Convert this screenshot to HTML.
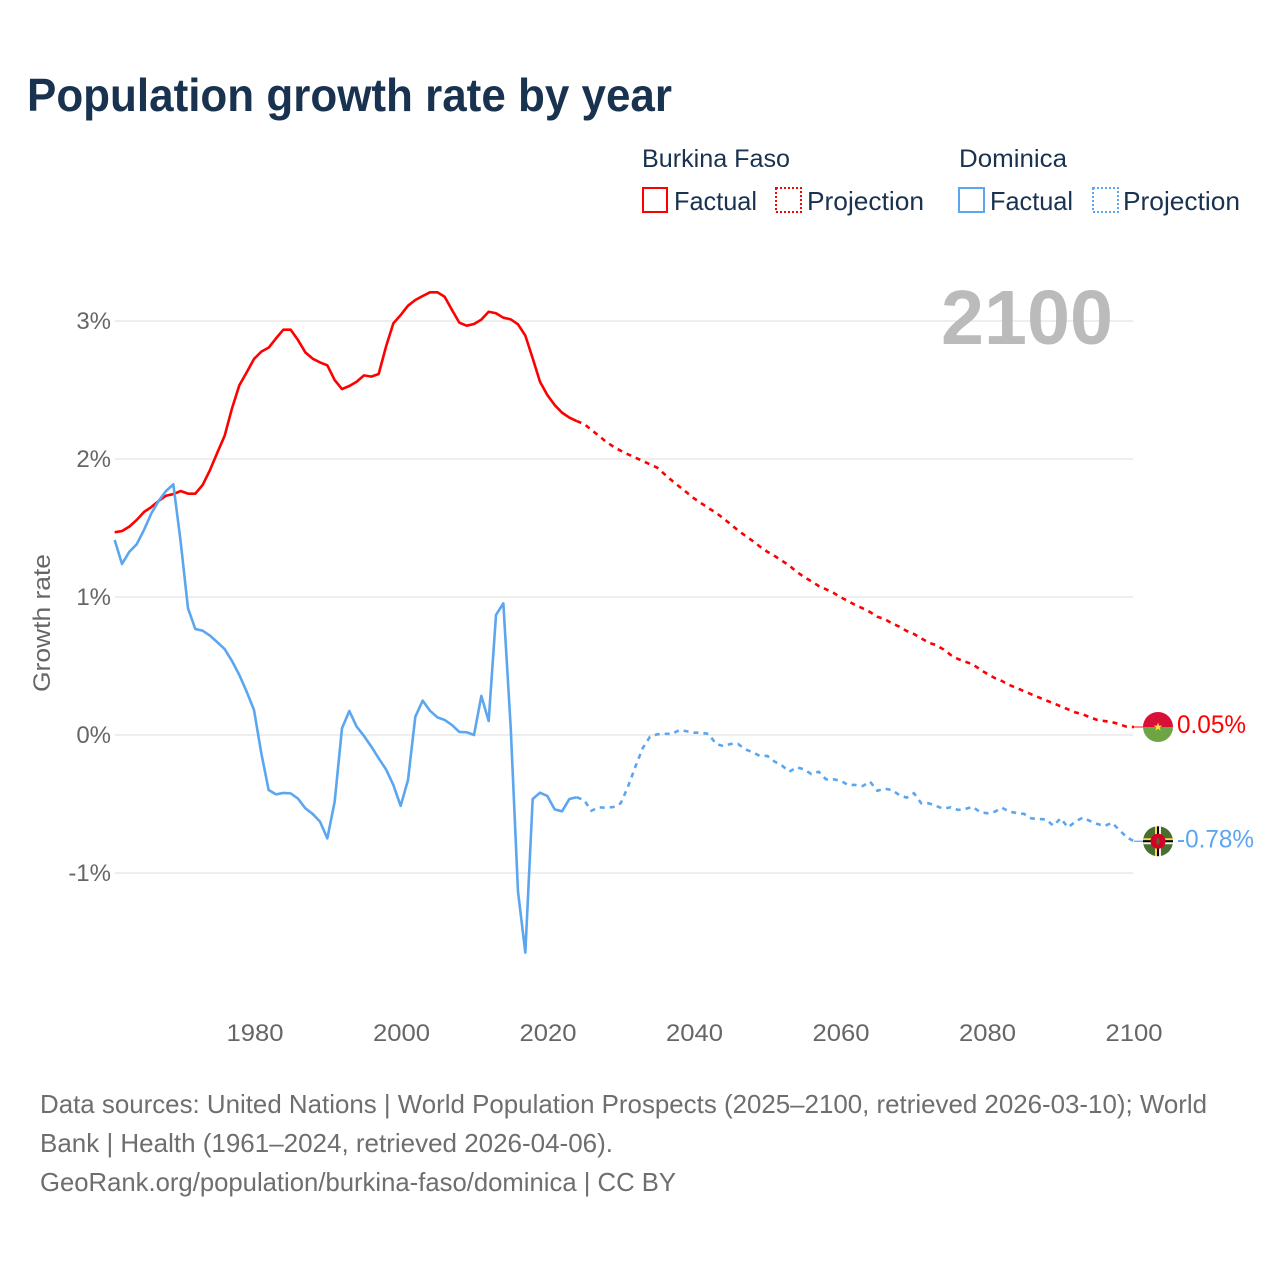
<!DOCTYPE html>
<html lang="en">
<head>
<meta charset="utf-8">
<title>Population growth rate by year</title>
<style>
  html, body { margin: 0; padding: 0; background: #fff; }
  svg { display: block; font-family: "Liberation Sans", sans-serif; }
</style>
</head>
<body>
<svg id="chart" xmlns="http://www.w3.org/2000/svg" width="1280" height="1280" viewBox="0 0 1280 1280">
  <rect x="0" y="0" width="1280" height="1280" fill="#ffffff"/>
  <text x="27" y="111" font-size="46" font-weight="700" fill="#18324f" textLength="645" lengthAdjust="spacingAndGlyphs">Population growth rate by year</text>

  <g>
    <text x="642" y="167" font-size="25" fill="#18324f" textLength="148" lengthAdjust="spacingAndGlyphs">Burkina Faso</text>
    <text x="959" y="167" font-size="25" fill="#18324f" textLength="108" lengthAdjust="spacingAndGlyphs">Dominica</text>
    <rect x="643" y="188" width="24" height="24" fill="none" stroke="#ff0000" stroke-width="2" shape-rendering="crispEdges"/>
    <text x="674" y="210" font-size="26" fill="#18324f" textLength="83" lengthAdjust="spacingAndGlyphs">Factual</text>
    <rect x="776" y="188" width="25" height="24" fill="none" stroke="#ff0000" stroke-width="2" stroke-dasharray="2 2" shape-rendering="crispEdges"/>
    <text x="807" y="210" font-size="26" fill="#18324f" textLength="117" lengthAdjust="spacingAndGlyphs">Projection</text>
    <rect x="959" y="188" width="25" height="24" fill="none" stroke="#5ca6ef" stroke-width="2" shape-rendering="crispEdges"/>
    <text x="990" y="210" font-size="26" fill="#18324f" textLength="83" lengthAdjust="spacingAndGlyphs">Factual</text>
    <rect x="1093" y="188" width="25" height="24" fill="none" stroke="#5ca6ef" stroke-width="2" stroke-dasharray="2 2" shape-rendering="crispEdges"/>
    <text x="1123" y="210" font-size="26" fill="#18324f" textLength="117" lengthAdjust="spacingAndGlyphs">Projection</text>
  </g>

  <g id="grid"></g>
  <g id="yticks"></g>
  <g id="xticks"></g>
  <text transform="translate(50 692) rotate(-90)" font-size="24" fill="#666666" textLength="138" lengthAdjust="spacingAndGlyphs">Growth rate</text>
  <text x="941" y="344" font-size="77" font-weight="700" fill="#bbbbbb" textLength="172" lengthAdjust="spacingAndGlyphs">2100</text>
  <g id="series"></g>

  <defs>
    <clipPath id="flag-clip"><circle cx="0" cy="0" r="15"/></clipPath>
  </defs>
  <g id="flag-bf" clip-path="url(#flag-clip)">
    <rect x="-15" y="-15" width="30" height="15" fill="#d80f36"/>
    <rect x="-15" y="0" width="30" height="15" fill="#6da544"/>
    <polygon points="0,-4.5 1.1,-1.4 4.3,-1.4 1.7,0.5 2.7,3.6 0,1.7 -2.7,3.6 -1.7,0.5 -4.3,-1.4 -1.1,-1.4" fill="#ffda44"/>
  </g>
  <g id="flag-dm" clip-path="url(#flag-clip)">
    <rect x="-15" y="-15" width="30" height="30" fill="#496e2d"/>
    <rect x="-3" y="-15" width="2" height="30" fill="#ffda44"/>
    <rect x="-1" y="-15" width="2" height="30" fill="#000000"/>
    <rect x="1" y="-15" width="2" height="30" fill="#f0f0f0"/>
    <rect x="-15" y="-3" width="30" height="2" fill="#ffda44"/>
    <rect x="-15" y="-1" width="30" height="2" fill="#000000"/>
    <rect x="-15" y="1" width="30" height="2" fill="#f0f0f0"/>
    <circle cx="0" cy="0" r="7.5" fill="#d80027"/>
    <ellipse cx="0" cy="0" rx="1.6" ry="3.6" fill="#496e2d"/>
  </g>

  <text x="40" y="1113" font-size="26" fill="#6e6e6e" textLength="1167" lengthAdjust="spacingAndGlyphs">Data sources: United Nations | World Population Prospects (2025–2100, retrieved 2026-03-10); World</text>
  <text x="40" y="1152" font-size="26" fill="#6e6e6e" textLength="573" lengthAdjust="spacingAndGlyphs">Bank | Health (1961–2024, retrieved 2026-04-06).</text>
  <text x="40" y="1191" font-size="26" fill="#6e6e6e" textLength="636" lengthAdjust="spacingAndGlyphs">GeoRank.org/population/burkina-faso/dominica | CC BY</text>
</svg>

<script>
const factualStartYear = 1961;
const projectionStartYear = 2024;
const xTickYears = [1980, 2000, 2020, 2040, 2060, 2080, 2100];
const yTickValues = [-1, 0, 1, 2, 3];
const yTickLabels = ["-1%", "0%", "1%", "2%", "3%"];
const endLabelBurkina = "0.05%";
const endLabelDominica = "-0.78%";

const burkinaFactual = [
  1.469, 1.478, 1.51, 1.558, 1.616, 1.652, 1.696, 1.734, 1.746, 1.768,
  1.749, 1.749, 1.812, 1.92, 2.046, 2.169, 2.367, 2.534, 2.628, 2.725,
  2.778, 2.807, 2.874, 2.937, 2.937, 2.862, 2.773, 2.727, 2.70, 2.679,
  2.572, 2.507, 2.529, 2.56, 2.606, 2.597, 2.616, 2.814, 2.983, 3.043,
  3.111, 3.152, 3.181, 3.208, 3.208, 3.176, 3.08, 2.988, 2.966, 2.978,
  3.01, 3.067, 3.056, 3.024, 3.012, 2.976, 2.894, 2.73, 2.56, 2.464,
  2.391, 2.336, 2.30, 2.275
];
const burkinaProjection = [
  2.275, 2.254, 2.212, 2.169, 2.125, 2.09, 2.06, 2.034, 2.01, 1.986, 1.961,
  1.937, 1.889, 1.843, 1.80, 1.758, 1.715, 1.679, 1.643, 1.611, 1.57,
  1.527, 1.483, 1.444, 1.406, 1.365, 1.328, 1.297, 1.263, 1.227, 1.183,
  1.145, 1.114, 1.08, 1.056, 1.031, 0.998, 0.971, 0.942, 0.918, 0.891,
  0.857, 0.84, 0.809, 0.785, 0.754, 0.732, 0.70, 0.669, 0.652, 0.621,
  0.58, 0.551, 0.531, 0.512, 0.476, 0.442, 0.413, 0.391, 0.362, 0.341,
  0.317, 0.295, 0.273, 0.251, 0.23, 0.208, 0.186, 0.164, 0.15, 0.128,
  0.109, 0.101, 0.094, 0.078, 0.06, 0.058
];
const dominicaFactual = [
  1.413, 1.239, 1.328, 1.382, 1.486, 1.606, 1.696, 1.768, 1.816, 1.40,
  0.918, 0.768, 0.756, 0.72, 0.672, 0.623, 0.536, 0.435, 0.314, 0.181,
  -0.133, -0.399, -0.43, -0.42, -0.423, -0.461, -0.531, -0.572, -0.628, -0.749,
  -0.483, 0.049, 0.174, 0.06, -0.007, -0.084, -0.169, -0.249, -0.362, -0.514,
  -0.326, 0.133, 0.249, 0.176, 0.128, 0.109, 0.072, 0.022, 0.02, 0.0,
  0.283, 0.101, 0.87, 0.954, 0.06, -1.135, -1.577, -0.464, -0.418, -0.442,
  -0.539, -0.553, -0.464, -0.451
];
const dominicaProjection = [
  -0.451, -0.471, -0.549, -0.524, -0.527, -0.522, -0.495, -0.375, -0.23, -0.096, -0.012,
  0.005, 0.009, 0.007, 0.036, 0.027, 0.017, 0.017, 0.007, -0.065, -0.08,
  -0.065, -0.065, -0.104, -0.125, -0.152, -0.152, -0.193, -0.222, -0.266, -0.234,
  -0.249, -0.283, -0.266, -0.321, -0.321, -0.331, -0.362, -0.362, -0.37, -0.338,
  -0.404, -0.389, -0.399, -0.435, -0.454, -0.422, -0.495, -0.495, -0.514, -0.534,
  -0.524, -0.543, -0.536, -0.52, -0.558, -0.567, -0.556, -0.527, -0.556, -0.565,
  -0.572, -0.604, -0.609, -0.611, -0.657, -0.604, -0.669, -0.628, -0.599, -0.623,
  -0.645, -0.659, -0.636, -0.688, -0.741, -0.77
];

const NS = "http://www.w3.org/2000/svg";
const RED = "#ff0000";
const BLUE = "#5ca6ef";
function xScale(year) { return 254 + (year - 1980) * (1134 - 254) / 120; }
function tickX(year) { return 255 + (year - 1980) * (1134 - 255) / 120; }
function yScale(value) { return 735 - value * 138; }
function make(tag, attrs, parent) {
  const el = document.createElementNS(NS, tag);
  Object.keys(attrs).forEach(function (k) { el.setAttribute(k, attrs[k]); });
  parent.appendChild(el);
  return el;
}
function linePath(values, startYear) {
  return values.map(function (v, i) {
    return (i ? "L" : "M") + xScale(startYear + i).toFixed(2) + " " + yScale(v).toFixed(2);
  }).join(" ");
}

const gridGroup = document.getElementById("grid");
const yTickGroup = document.getElementById("yticks");
const xTickGroup = document.getElementById("xticks");
const seriesGroup = document.getElementById("series");
const svgRoot = document.getElementById("chart");

yTickValues.forEach(function (v, i) {
  const line = make("line", { x1: 115, x2: 1133, y1: yScale(v), y2: yScale(v), stroke: "#e9e9e9", "stroke-width": 1.5 }, gridGroup);
  
  
  const label = make("text", { x: 111, y: yScale(v) + 8, "text-anchor": "end", "font-size": 24, fill: "#666666" }, yTickGroup);
  
  
  label.textContent = yTickLabels[i];
});

xTickYears.forEach(function (year) {
  const label = make("text", { x: tickX(year), y: 1041, "text-anchor": "middle", "font-size": 24, fill: "#666666", textLength: 57, lengthAdjust: "spacingAndGlyphs" }, xTickGroup);
  
  
  label.textContent = String(year);
});

const burkinaFactualLine = make("path", { d: linePath(burkinaFactual, factualStartYear), fill: "none", stroke: RED, "stroke-width": 2.6, "stroke-linejoin": "round" }, seriesGroup);



const burkinaProjectionLine = make("path", { d: linePath(burkinaProjection, projectionStartYear), fill: "none", stroke: RED, "stroke-width": 2.6, "stroke-dasharray": "5 5" }, seriesGroup);



const dominicaFactualLine = make("path", { d: linePath(dominicaFactual, factualStartYear), fill: "none", stroke: BLUE, "stroke-width": 2.6, "stroke-linejoin": "round" }, seriesGroup);



const dominicaProjectionLine = make("path", { d: linePath(dominicaProjection, projectionStartYear), fill: "none", stroke: BLUE, "stroke-width": 2.6, "stroke-dasharray": "5 5" }, seriesGroup);



const redEndY = yScale(burkinaProjection[burkinaProjection.length - 1]);
const blueEndY = yScale(dominicaProjection[dominicaProjection.length - 1]);
const endX = xScale(projectionStartYear + burkinaProjection.length - 1);

const redConnector = make("line", { x1: endX, x2: 1143, y1: redEndY, y2: redEndY, stroke: RED, "stroke-width": 1.2, opacity: 0.8 }, seriesGroup);



const blueConnector = make("line", { x1: endX, x2: 1143, y1: blueEndY, y2: blueEndY, stroke: BLUE, "stroke-width": 1.2 }, seriesGroup);



document.getElementById("flag-bf").setAttribute("transform", "translate(1158 " + redEndY + ")");
document.getElementById("flag-dm").setAttribute("transform", "translate(1158 " + blueEndY + ")");

const redEndLabel = make("text", { x: 1177, y: redEndY + 6, "font-size": 25, fill: RED, textLength: 69, lengthAdjust: "spacingAndGlyphs" }, svgRoot);


redEndLabel.textContent = endLabelBurkina;

const blueEndLabel = make("text", { x: 1177, y: blueEndY + 6, "font-size": 25, fill: BLUE, textLength: 77, lengthAdjust: "spacingAndGlyphs" }, svgRoot);


blueEndLabel.textContent = endLabelDominica;
</script>
</body>
</html>
